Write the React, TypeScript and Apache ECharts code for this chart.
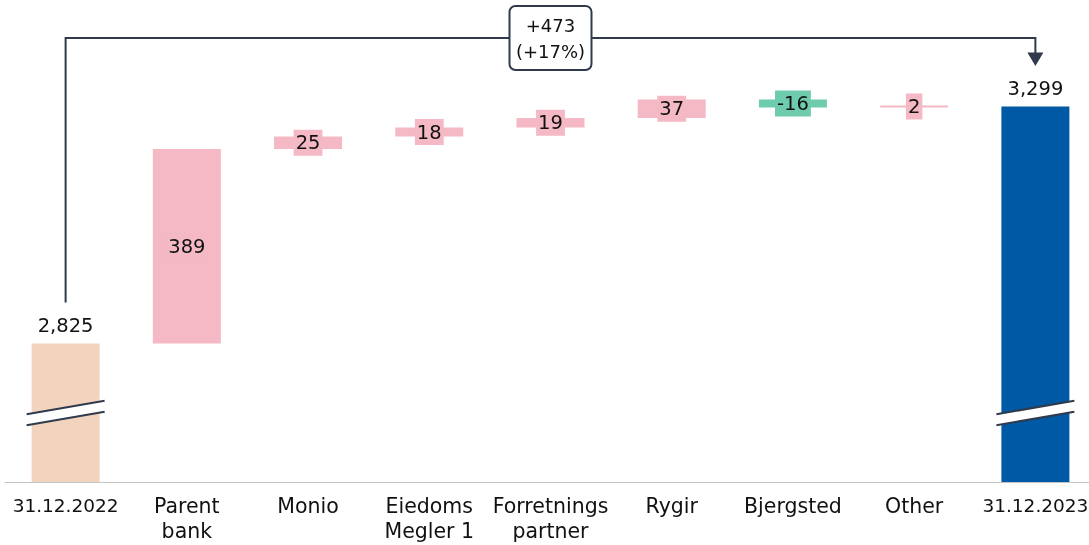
import React, { useEffect, useRef } from "react";
import * as echarts from "echarts";

const categories = [
  "31.12.2022",
  "Parent\nbank",
  "Monio",
  "Eiedoms\nMegler 1",
  "Forretnings\npartner",
  "Rygir",
  "Bjergsted",
  "Other",
  "31.12.2023",
];
const startTotal = 2825;
const endTotal = 3299;
const changes = [389, 25, 18, 19, 37, -16, 2];
const bridgeLabel = ["+473", "(+17%)"];
const axisMin = 2548;
const axisMax = 3348;

const COLORS = {
  start: "#f2d4be",
  up: "#f4b9c4",
  down: "#6fcbad",
  end: "#0059a4",
  line: "#2f3a4c",
  axis: "#c4c4c4",
};
const FONT = "DejaVu Sans";

function buildSeries() {
  const base: number[] = [0];
  const vals: any[] = [];
  vals.push({
    value: startTotal,
    itemStyle: { color: COLORS.start },
    label: { show: true, position: "top", distance: 7, formatter: startTotal.toLocaleString("en-US") },
  });
  let running = startTotal;
  changes.forEach((c) => {
    const color = c >= 0 ? COLORS.up : COLORS.down;
    const b = c >= 0 ? running : running + c;
    base.push(b);
    vals.push({
      value: Math.abs(c),
      itemStyle: { color },
      label: {
        show: true,
        position: "inside",
        formatter: String(c),
        backgroundColor: color,
        padding: [2, 2, 1, 2],
      },
    });
    running += c;
  });
  base.push(0);
  vals.push({
    value: endTotal,
    itemStyle: { color: COLORS.end },
    label: { show: true, position: "top", distance: 7, formatter: endTotal.toLocaleString("en-US") },
  });
  return { base, vals };
}

export default function App() {
  const ref = useRef<HTMLDivElement>(null);
  useEffect(() => {
    if (!ref.current) return;
    const chart = echarts.init(ref.current, undefined, { renderer: "svg" });
    const { base, vals } = buildSeries();
    chart.setOption({
      animation: false,
      textStyle: { fontFamily: FONT },
      grid: { left: 5, right: -7, top: 82, height: 400, outerBoundsMode: "none", containLabel: false },
      xAxis: {
        type: "category",
        data: categories,
        axisLine: { lineStyle: { color: COLORS.axis, width: 1 } },
        axisTick: { show: false },
        axisLabel: {
          interval: 0,
          fontFamily: FONT,
          fontSize: 20.5,
          lineHeight: 25,
          color: "#111",
          margin: 11,
          formatter: (v: string) => (/^\d+\.\d+\.\d+$/.test(v) ? `{d|${v}}` : v),
          rich: {
            d: { fontFamily: FONT, fontSize: 18.5, lineHeight: 25, color: "#111" },
          },
        },
      },
      yAxis: { type: "value", min: axisMin, max: axisMax, show: false },
      series: [
        {
          type: "bar",
          stack: "wf",
          barWidth: 68,
          data: base,
          itemStyle: { color: "transparent" },
          silent: true,
        },
        {
          type: "bar",
          stack: "wf",
          barWidth: 68,
          barMinHeight: 2,
          data: vals,
          label: { color: "#111", fontSize: 19.5, fontFamily: FONT, lineHeight: 23 },
        },
      ],
    });

    const px = (i: number, v: number) => chart.convertToPixel({ gridIndex: 0 }, [i, v]) as number[];
    const last = categories.length - 1;
    const [x0, yStartTop] = px(0, startTotal);
    const [x1, yEndTop] = px(last, endTotal);
    const [, yBottom] = px(0, axisMin);
    const topY = 38;
    const graphics: any[] = [];

    // break marks
    [0, last].forEach((i) => {
      const [cx] = px(i, axisMin);
      const ym = yBottom - 69;
      const hw = 39;
      const dy = 6.8;
      const g = 5.5;
      graphics.push({
        type: "polygon",
        shape: {
          points: [
            [cx - hw, ym - g + dy],
            [cx + hw, ym - g - dy],
            [cx + hw, ym + g - dy],
            [cx - hw, ym + g + dy],
          ],
        },
        style: { fill: "#ffffff" },
        z: 10,
      });
      [-g, g].forEach((o) => {
        graphics.push({
          type: "line",
          shape: { x1: cx - hw, y1: ym + o + dy, x2: cx + hw, y2: ym + o - dy },
          style: { stroke: COLORS.line, lineWidth: 2 },
          z: 11,
        });
      });
    });

    // bracket
    graphics.push({
      type: "polyline",
      shape: {
        points: [
          [x0, yStartTop - 41],
          [x0, topY],
          [x1, topY],
          [x1, yEndTop - 53],
        ],
      },
      style: { stroke: COLORS.line, lineWidth: 2, fill: null },
      z: 10,
    });
    graphics.push({
      type: "polygon",
      shape: {
        points: [
          [x1 - 8, yEndTop - 54],
          [x1 + 8, yEndTop - 54],
          [x1, yEndTop - 40.5],
        ],
      },
      style: { fill: COLORS.line },
      z: 10,
    });
    const mx = (x0 + x1) / 2;
    graphics.push({
      type: "rect",
      shape: { x: mx - 41, y: topY - 32, width: 82, height: 64, r: 6 },
      style: { fill: "#ffffff", stroke: COLORS.line, lineWidth: 2 },
      z: 12,
    });
    graphics.push({
      type: "text",
      x: mx,
      y: topY,
      style: {
        text: bridgeLabel.join("\n"),
        fontFamily: FONT,
        fontSize: 18,
        lineHeight: 26,
        fill: "#111",
        align: "center",
        verticalAlign: "middle",
      },
      z: 13,
    });

    chart.setOption({ graphic: graphics });
    return () => chart.dispose();
  }, []);
  return (
    <div
      ref={ref}
      style={{ position: "fixed", left: 0, top: 0, width: 1089, height: 545 }}
    />
  );
}
